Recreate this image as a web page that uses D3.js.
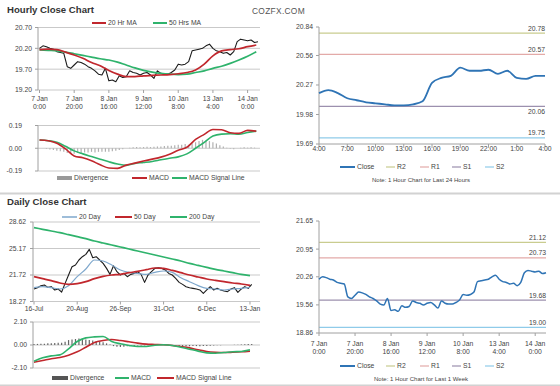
<!DOCTYPE html>
<html>
<head>
<meta charset="utf-8">
<script src="https://cdn.jsdelivr.net/npm/d3@7"></script>
<style>
  body { margin: 0; background: #fff; }
  svg text { font-family: "Liberation Sans", Arial, sans-serif; }
</style>
</head>
<body>
<script>
// ---------- hourly data: 7 Jan 0:00 -> 14 Jan (trading hours), one close every 2 hours
var hourClose = [20.20, 20.26, 20.24, 20.20, 20.18, 20.12, 20.10, 20.08,
  19.76, 19.72, 19.80, 19.88, 19.86, 19.82, 19.76, 19.72,
  19.66, 19.58, 19.56, 19.72, 19.42, 19.44, 19.40, 19.54,
  19.50, 19.52, 19.66, 19.62, 19.60, 19.56, 19.60, 19.62,
  19.56, 19.48, 19.66, 19.60, 19.58, 19.58, 19.62, 19.68,
  19.82, 19.80, 19.82, 19.88, 20.14, 20.16, 20.18, 20.20,
  20.26, 20.30, 20.20, 20.14, 20.12, 20.08, 20.10, 20.04,
  20.12, 20.36, 20.42, 20.40, 20.38, 20.40, 20.34, 20.36];
var closeHours = d3.range(0, 127, 2);

// moving averages and MACD, read every 5 hours
var maHours = [0, 5, 10, 15, 20, 25, 30, 35, 40, 45, 50, 55, 60, 65, 70, 75, 80, 85, 90, 95, 100, 105, 110, 115, 120, 125];
var ma20Hr = [20.17, 20.18, 20.17, 20.11, 20.04, 19.96, 19.86, 19.78, 19.67, 19.58, 19.52, 19.52, 19.54,
  19.55, 19.56, 19.57, 19.59, 19.62, 19.68, 19.82, 20.02, 20.14, 20.17, 20.19, 20.24, 20.28];
var ma50Hr = [20.16, 20.15, 20.14, 20.11, 20.07, 20.03, 19.99, 19.95, 19.92, 19.87, 19.80, 19.73, 19.67,
  19.63, 19.60, 19.58, 19.57, 19.58, 19.62, 19.66, 19.72, 19.77, 19.84, 19.92, 20.01, 20.12];
var macdHr = [0.069, 0.063, 0.041, -0.006, -0.064, -0.080, -0.105, -0.138, -0.165, -0.168, -0.141, -0.124, -0.107,
  -0.091, -0.074, -0.050, -0.017, 0.008, 0.074, 0.116, 0.157, 0.154, 0.129, 0.124, 0.149, 0.143];
var signalHr = [0.069, 0.063, 0.050, 0.016, -0.022, -0.047, -0.069, -0.091, -0.113, -0.132, -0.143, -0.127, -0.119,
  -0.110, -0.096, -0.083, -0.072, -0.047, 0.000, 0.049, 0.102, 0.118, 0.121, 0.118, 0.132, 0.143];
// divergence bars every 2 hours (0..124)
var divHr = [0, 0, -0.005, -0.01, -0.015, -0.02,
  -0.025, -0.03, -0.04, -0.045, -0.045,
  -0.04, -0.04, -0.035, -0.035, -0.03, -0.035, -0.03, -0.03, -0.03, -0.03,
  -0.025, -0.02, -0.015, -0.008, 0, 0.005,
  0.008, 0.01, 0.008, 0.01, 0.012, 0.01, 0.012, 0.015, 0.015, 0.018, 0.02, 0.02,
  0.025, 0.03, 0.03, 0.035, 0.03, 0.04, 0.05,
  0.06, 0.07, 0.065, 0.06, 0.05, 0.04, 0.025,
  0.015, 0.005, -0.005, -0.008, 0, 0.005, 0.008, 0.005, 0.008, 0.005];
var hourTickPos = [0, 20, 40, 60, 80, 100, 120];
var hourTickDay = ["7 Jan", "7 Jan", "8 Jan", "9 Jan", "10 Jan", "13 Jan", "14 Jan"];
var hourTickTime = ["0:00", "20:00", "16:00", "12:00", "8:00", "4:00", "0:00"];
var hourPriceTicks = [19.20, 19.70, 20.20, 20.70];
var hourMacdTicks = [-0.19, 0, 0.19];

// ---------- last 24 hours (13 Jan 4:00 -> 14 Jan 4:00)
var close24 = [20.19, 20.22, 20.19, 20.14, 20.12, 20.10, 20.09, 20.08, 20.07, 20.07, 20.08, 20.11,
  20.29, 20.34, 20.36, 20.44, 20.41, 20.41, 20.42, 20.38, 20.41, 20.34, 20.33, 20.36, 20.36];
var ticks24 = [19.69, 19.98, 20.27, 20.56, 20.84];
var labels24 = ["4:00", "7:00", "10:00", "13:00", "16:00", "19:00", "22:00", "1:00", "4:00"];
var levels24 = [20.78, 20.57, 20.06, 19.75];
var ticksWeek = [18.86, 19.56, 20.26, 20.95, 21.65];
var levelsWeek = [21.12, 20.73, 19.68, 19.00];
var levelNames = ["R2", "R1", "S1", "S2"];
var levelColors = ["#c9cc8f", "#e3aaa8", "#9c90ae", "#8fcbe9"];

// ---------- daily data: 16 Jul -> 13 Jan, one close every 2 trading days
var dailyClose = [19.90, 20.07, 20.33, 20.42, 20.11, 20.20, 19.77, 19.90,
  19.50, 20.63, 21.72, 22.80, 23.02, 23.67, 24.10, 24.41,
  25.06, 23.97, 24.10, 23.67, 23.23, 22.58, 21.80, 22.93,
  22.15, 21.72, 21.93, 21.50, 21.80, 21.93, 22.15, 21.80,
  20.76, 21.72, 22.15, 22.58, 22.67, 22.58, 22.37, 21.93,
  21.72, 21.28, 20.76, 20.50, 20.20, 20.07, 19.98, 19.90,
  19.77, 19.33, 19.77, 20.20, 19.77, 19.98, 19.77, 19.64,
  19.55, 19.90, 20.07, 19.46, 19.90, 20.20, 19.98, 20.50];
var closeDays = d3.range(0, 127, 2);
var maDays = [0, 5, 10, 15, 20, 25, 30, 35, 40, 45, 50, 55, 60, 65, 70, 75, 80, 85, 90, 95, 100, 105, 110, 115, 120, 125];
var ma20Day = [20.07, 20.20, 20.07, 19.90, 20.33, 21.50, 22.50, 23.67, 23.54, 23.02, 22.37, 22.06, 21.93,
  21.80, 22.06, 22.24, 22.06, 21.37, 20.85, 20.33, 19.98, 19.90, 19.77, 19.90, 19.98, 20.11];
var ma50Day = [21.50, 21.24, 20.98, 20.68, 20.51, 20.59, 20.85, 21.24, 21.54, 21.72, 21.80, 22.02, 22.20,
  22.41, 22.63, 22.58, 22.32, 22.02, 21.72, 21.46, 21.20, 21.02, 20.85, 20.68, 20.55, 20.37];
var ma200Day = [27.89, 27.67, 27.45, 27.23, 26.97, 26.71, 26.45, 26.15, 25.89, 25.63, 25.37, 25.11, 24.84,
  24.58, 24.32, 24.06, 23.80, 23.54, 23.23, 22.97, 22.71, 22.45, 22.24, 22.02, 21.80, 21.63];
var macdDay = [-1.48, -1.17, -0.99, -0.90, -0.35, 0.32, 0.65, 0.74, 0.77, 0.32, 0.11, -0.04, -0.14,
  -0.14, -0.02, 0.02, -0.04, -0.20, -0.38, -0.56, -0.72, -0.75, -0.69, -0.62, -0.59, -0.44];
var signalDay = [-1.57, -1.42, -1.26, -1.14, -0.93, -0.62, -0.20, 0.23, 0.41, 0.50, 0.41, 0.29, 0.17,
  0.08, 0.05, 0.02, -0.04, -0.14, -0.26, -0.44, -0.59, -0.66, -0.69, -0.66, -0.62, -0.56];
var divDay = [0.08, 0.1, 0.12, 0.12, 0.15, 0.15, 0.18, 0.2, 0.2,
  0.3, 0.45, 0.5, 0.55, 0.6, 0.55, 0.5, 0.45,
  0.4, 0.35, 0.3, 0.25, 0.15, 0.05,
  -0.1, -0.15, -0.18, -0.15, -0.12, -0.1, -0.08,
  -0.05, -0.04, -0.03, -0.02, 0, 0.02, 0.02, 0.01, 0, 0,
  -0.02, -0.05, -0.08, -0.1, -0.12, -0.12, -0.1, -0.1, -0.12, -0.1, -0.08,
  -0.06, -0.05, -0.03, -0.02, -0.01, 0, 0.01, 0.02, 0.03, 0.05, 0.06, 0.08, 0.08];
var dayTickPos = [0, 25, 50, 75, 100, 125];
var dayTickLabels = ["16-Jul", "20-Aug", "26-Sep", "31-Oct", "6-Dec", "13-Jan"];
var dayPriceTicks = [18.27, 21.72, 25.17, 28.62];
var dayMacdTicks = [-2.10, 0, 2.10];

var RED = "#c1272d", GREEN = "#2fb36c", BLUE = "#2f74b5", LBLUE = "#7ea7cc";

var svg = d3.select("body").append("svg")
    .attr("width", 560)
    .attr("height", 386);

var fmt = d => d.toFixed(2);

// left-hand grid + axis
function gridAxis(y, ticks, x0, x1, labelRight) {
  var g = svg.append("g");
  g.selectAll("line.grid").data(ticks).join("line")
      .attr("class", "grid")
      .attr("x1", x0).attr("x2", x1)
      .attr("y1", d => y(d)).attr("y2", d => y(d))
      .attr("stroke", "#c9c9c9");
  g.append("line")
      .attr("x1", x0).attr("x2", x0)
      .attr("y1", y(ticks[0])).attr("y2", y(ticks[ticks.length - 1]))
      .attr("stroke", "#a0a0a0");
  g.selectAll("line.tk").data(ticks).join("line")
      .attr("class", "tk")
      .attr("x1", x0 - 3).attr("x2", x0)
      .attr("y1", d => y(d)).attr("y2", d => y(d))
      .attr("stroke", "#a0a0a0");
  g.selectAll("text").data(ticks).join("text")
      .attr("x", labelRight).attr("y", d => y(d) + 2.4)
      .attr("text-anchor", "end")
      .attr("font-size", 6.8).attr("fill", "#444")
      .text(fmt);
}

function line(x, y, xs, ys, color, width, curve) {
  svg.append("path")
      .datum(ys.map((v, i) => [xs[i], v]))
      .attr("fill", "none")
      .attr("stroke", color)
      .attr("stroke-width", width)
      .attr("stroke-linejoin", "round")
      .attr("d", d3.line().x(d => x(d[0])).y(d => y(d[1])).curve(curve || d3.curveLinear));
}

function bars(x, y, xs, vals, color) {
  svg.append("g").selectAll("line").data(vals).join("line")
      .attr("x1", (d, i) => x(xs[i])).attr("x2", (d, i) => x(xs[i]))
      .attr("y1", y(0)).attr("y2", d => y(d))
      .attr("stroke", color).attr("stroke-width", 1.2);
}

function legendLine(x1, x2, y, color, label, w) {
  svg.append("line").attr("x1", x1).attr("x2", x2).attr("y1", y).attr("y2", y)
      .attr("stroke", color).attr("stroke-width", w || 2);
  svg.append("text").attr("x", x2 + 2).attr("y", y + 2.4)
      .attr("font-size", 6.8).attr("fill", "#444").text(label);
}

function legendBox(x1, x2, y, color, label) {
  svg.append("rect").attr("x", x1).attr("y", y - 2).attr("width", x2 - x1).attr("height", 4)
      .attr("fill", color);
  svg.append("text").attr("x", x2 + 2).attr("y", y + 2.4)
      .attr("font-size", 6.8).attr("fill", "#444").text(label);
}

// ---------- titles and separators
svg.append("text").attr("x", 7).attr("y", 13).attr("font-size", 9.6).attr("font-weight", "bold")
    .attr("fill", "#333").text("Hourly Close Chart");
svg.append("text").attr("x", 7).attr("y", 205).attr("font-size", 9.6).attr("font-weight", "bold")
    .attr("fill", "#333").text("Daily Close Chart");
svg.append("text").attr("x", 252).attr("y", 14).attr("font-size", 8.4).attr("fill", "#555")
    .attr("letter-spacing", 0.3).text("COZFX.COM");
svg.append("rect").attr("x", 0).attr("y", 192.5).attr("width", 560).attr("height", 2).attr("fill", "#d2d2d2");
svg.append("rect").attr("x", 0).attr("y", 384.5).attr("width", 560).attr("height", 1.5).attr("fill", "#d2d2d2");

// ---------- hourly price chart
var xHr = d3.scaleLinear().domain([0, 126]).range([39.5, 258]);
var yHr = d3.scaleLinear().domain([19.20, 20.70]).range([90, 27.5]);
gridAxis(yHr, hourPriceTicks, 38, 260, 32);
svg.append("g").selectAll("line").data(hourTickPos).join("line")
    .attr("x1", d => xHr(d)).attr("x2", d => xHr(d))
    .attr("y1", yHr(19.20)).attr("y2", yHr(19.20) + 3)
    .attr("stroke", "#a0a0a0");
svg.append("g").selectAll("text").data(hourTickPos).join("text")
    .attr("x", d => xHr(d)).attr("y", 100.5)
    .attr("text-anchor", "middle").attr("font-size", 6.8).attr("fill", "#444")
    .text((d, i) => hourTickDay[i]);
svg.append("g").selectAll("text").data(hourTickPos).join("text")
    .attr("x", d => xHr(d)).attr("y", 108.5)
    .attr("text-anchor", "middle").attr("font-size", 6.8).attr("fill", "#444")
    .text((d, i) => hourTickTime[i]);
line(xHr, yHr, closeHours, hourClose, "#1b1b1b", 1.1);
line(xHr, yHr, maHours, ma50Hr, GREEN, 1.7, d3.curveMonotoneX);
line(xHr, yHr, maHours, ma20Hr, RED, 1.7, d3.curveMonotoneX);
legendLine(92, 106, 23, RED, "20 Hr MA");
legendLine(153, 167, 23, GREEN, "50 Hrs MA");

// ---------- hourly MACD
var yHrM = d3.scaleLinear().domain([-0.19, 0.19]).range([171, 125.5]);
gridAxis(yHrM, hourMacdTicks, 38, 260, 22);
bars(xHr, yHrM, closeHours, divHr, "#b0b0b0");
line(xHr, yHrM, maHours, signalHr, GREEN, 1.6, d3.curveMonotoneX);
line(xHr, yHrM, maHours, macdHr, RED, 1.6, d3.curveMonotoneX);
legendBox(57, 72, 178, "#999", "Divergence");
legendLine(132, 147, 178, RED, "MACD");
legendLine(172, 187, 178, GREEN, "MACD Signal Line");

// ---------- right-hand close charts with support / resistance
function closePanel(x, y, ticks, levels, xs, vals, tickPos, tickTop, tickBottom, legendY, note, lw, xLabelY) {
  var x0 = x.range()[0], x1 = x.range()[1];
  var yb = y.range()[0];
  svg.append("g").selectAll("line").data(levels).join("line")
      .attr("x1", x0).attr("x2", x1)
      .attr("y1", d => y(d)).attr("y2", d => y(d))
      .attr("stroke", (d, i) => levelColors[i]).attr("stroke-width", 1.2);
  svg.append("g").selectAll("text").data(levels).join("text")
      .attr("x", x1).attr("y", (d, i) => y(d) + (i === 2 && note.indexOf("24") > 0 ? 8 : -2.5))
      .attr("text-anchor", "end").attr("font-size", 6.8).attr("fill", "#444")
      .text(fmt);
  svg.append("line").attr("x1", x0).attr("x2", x0).attr("y1", y(ticks[ticks.length - 1])).attr("y2", yb)
      .attr("stroke", "#a0a0a0");
  svg.append("line").attr("x1", x0).attr("x2", x1).attr("y1", yb).attr("y2", yb)
      .attr("stroke", "#a0a0a0");
  svg.append("g").selectAll("line").data(ticks).join("line")
      .attr("x1", x0 - 3).attr("x2", x0).attr("y1", d => y(d)).attr("y2", d => y(d))
      .attr("stroke", "#a0a0a0");
  svg.append("g").selectAll("text").data(ticks).join("text")
      .attr("x", x0 - 6).attr("y", d => y(d) + 2.4)
      .attr("text-anchor", "end").attr("font-size", 6.8).attr("fill", "#444")
      .text(fmt);
  svg.append("g").selectAll("line").data(tickPos).join("line")
      .attr("x1", d => x(d)).attr("x2", d => x(d)).attr("y1", yb).attr("y2", yb + 3)
      .attr("stroke", "#a0a0a0");
  svg.append("g").selectAll("text").data(tickPos).join("text")
      .attr("x", d => x(d)).attr("y", xLabelY)
      .attr("text-anchor", "middle").attr("font-size", 6.8).attr("fill", "#444")
      .text((d, i) => tickTop[i]);
  if (tickBottom) {
    svg.append("g").selectAll("text").data(tickPos).join("text")
        .attr("x", d => x(d)).attr("y", xLabelY + 8.5)
        .attr("text-anchor", "middle").attr("font-size", 6.8).attr("fill", "#444")
        .text((d, i) => tickBottom[i]);
  }
  line(x, y, xs, vals, BLUE, lw, d3.curveMonotoneX);
  legendLine(340, 355, legendY, BLUE, "Close");
  levelNames.forEach(function(n, i) {
    var lx = [386, 420, 452, 485][i];
    legendLine(lx, lx + 9, legendY, levelColors[i], n, 1.2);
  });
  svg.append("text").attr("x", 421).attr("y", legendY + 14.5)
      .attr("text-anchor", "middle").attr("font-size", 6).attr("fill", "#444").text(note);
}

var x24 = d3.scaleLinear().domain([0, 24]).range([319, 545]);
var y24 = d3.scaleLinear().domain([19.69, 20.84]).range([144, 27]);
closePanel(x24, y24, ticks24, levels24, d3.range(0, 25), close24,
  d3.range(0, 25, 3), labels24, null, 167, "Note: 1 Hour Chart for Last 24 Hours", 1.8, 150.5);

var xWk = d3.scaleLinear().domain([0, 126]).range([319, 546]);
var yWk = d3.scaleLinear().domain([18.86, 21.65]).range([333, 221]);
closePanel(xWk, yWk, ticksWeek, levelsWeek, closeHours, hourClose,
  hourTickPos, hourTickDay, hourTickTime, 366, "Note: 1 Hour Chart for Last 1 Week", 1.5, 345.5);

// ---------- daily price chart
var xDay = d3.scaleLinear().domain([0, 126]).range([34, 251.7]);
var yDay = d3.scaleLinear().domain([18.27, 28.62]).range([301.5, 222]);
gridAxis(yDay, dayPriceTicks, 33, 260, 26);
svg.append("g").selectAll("line").data(dayTickPos).join("line")
    .attr("x1", d => xDay(d)).attr("x2", d => xDay(d))
    .attr("y1", 301.5).attr("y2", 304.5).attr("stroke", "#a0a0a0");
svg.append("g").selectAll("text").data(dayTickPos).join("text")
    .attr("x", d => xDay(d)).attr("y", 311)
    .attr("text-anchor", "middle").attr("font-size", 6.8).attr("fill", "#444")
    .text((d, i) => dayTickLabels[i]);
line(xDay, yDay, closeDays, dailyClose, "#1b1b1b", 1.1);
line(xDay, yDay, maDays, ma20Day, LBLUE, 1.2, d3.curveMonotoneX);
line(xDay, yDay, maDays, ma200Day, GREEN, 1.7, d3.curveMonotoneX);
line(xDay, yDay, maDays, ma50Day, RED, 1.7, d3.curveMonotoneX);
legendLine(62, 77, 217, LBLUE, "20 Day", 1.5);
legendLine(115, 132, 217, RED, "50 Day");
legendLine(170, 187, 217, GREEN, "200 Day");

// ---------- daily MACD
var yDayM = d3.scaleLinear().domain([-2.10, 2.10]).range([368, 322]);
gridAxis(yDayM, dayMacdTicks, 33, 260, 27);
bars(xDay, yDayM, closeDays, divDay, "#666");
line(xDay, yDayM, maDays, signalDay, RED, 1.6, d3.curveMonotoneX);
line(xDay, yDayM, maDays, macdDay, GREEN, 1.6, d3.curveMonotoneX);
legendBox(52, 68, 378, "#555", "Divergence");
legendLine(115, 129, 378, GREEN, "MACD");
legendLine(157, 174, 378, RED, "MACD Signal Line");
</script>
</body>
</html>
